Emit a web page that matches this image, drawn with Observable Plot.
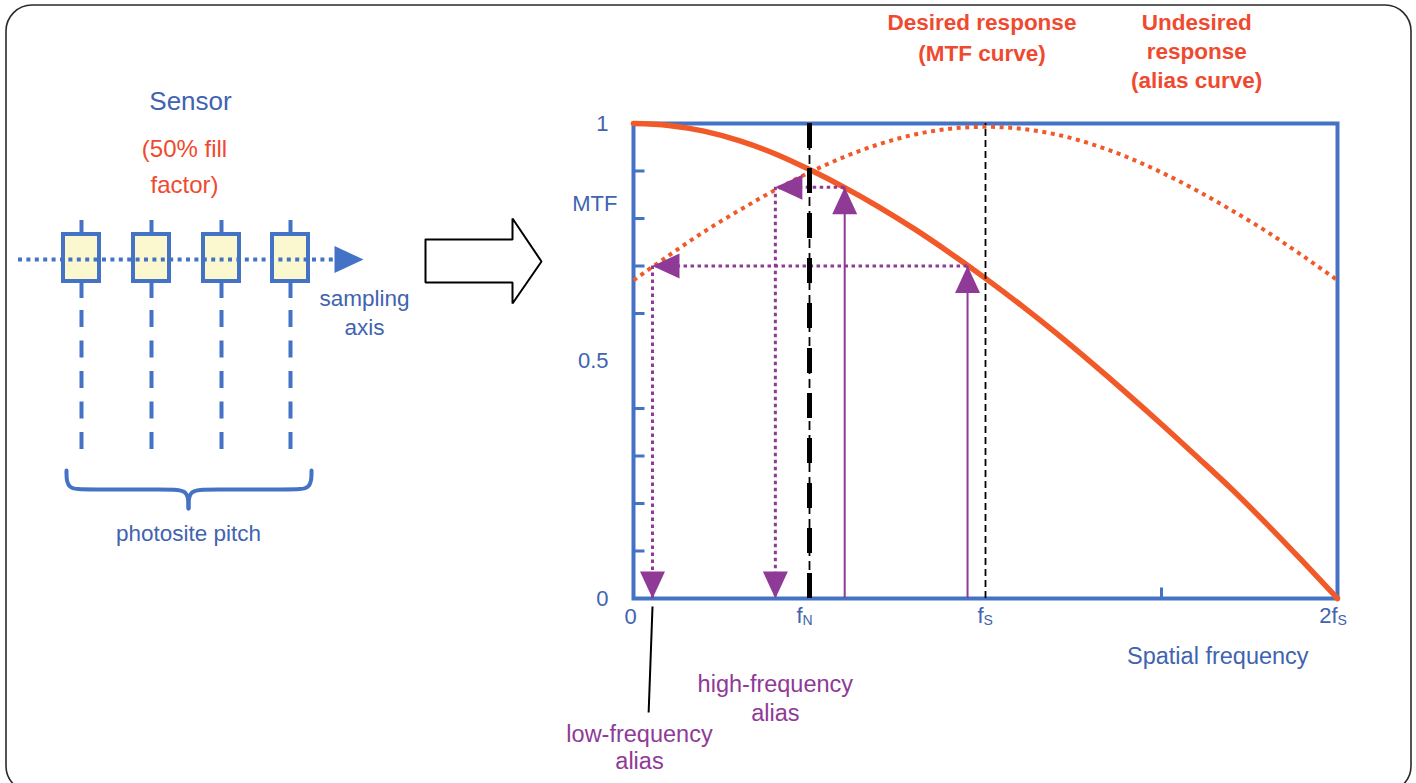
<!DOCTYPE html>
<html><head><meta charset="utf-8">
<script src="https://cdn.jsdelivr.net/npm/d3@7"></script>
<script src="https://cdn.jsdelivr.net/npm/@observablehq/plot@0.6"></script>
<style>
html,body{margin:0;padding:0;background:#fff;}
#wrap{position:relative;width:1416px;height:783px;overflow:hidden;background:#fff;}
#wrap svg{position:absolute;left:0;top:0;background:transparent !important;}
</style></head><body><div id="wrap"></div>
<script>
// ---------- DATA ----------
// spatial frequency in units of the sampling frequency fS
const freq  = [0,0.1,0.2,0.3,0.4,0.5,0.6,0.7,0.8,0.9,1.0,1.1,1.2,1.3,1.4,1.5,1.6,1.7,1.8,1.9,2.0];
// desired response (MTF curve)
const mtf   = [1.0,0.996,0.984,0.964,0.937,0.903,0.865,0.823,0.777,0.727,0.674,0.618,0.559,0.497,0.433,0.367,0.299,0.23,0.156,0.079,0.0];
// undesired response (alias curve)
const alias = [0.67,0.722,0.772,0.817,0.859,0.897,0.93,0.957,0.977,0.989,0.993,0.989,0.977,0.957,0.93,0.897,0.859,0.817,0.772,0.722,0.67];
const nyquist = 0.5;
const sampling = 1.0;
const yTicks = [0.1,0.2,0.3,0.4,0.6,0.7,0.8,0.9];
const xTicks = [1.5];
const yTickLabels = [{v:1,t:"1"},{v:0.5,t:"0.5"},{v:0,t:"0"}];
// aliasing examples: input frequency, response level, frequency where it aliases
const aliasCases = [
  {name:"high", f:0.6, level:0.866, aliasF:0.403},
  {name:"low",  f:0.949, level:0.70, aliasF:0.054}
];
// sensor diagram (photosite centres along the sampling axis)
const photosites = [81,151,221,290];

// ---------- STYLE ----------
const BLUE = "#4472C4", BLUE_TXT = "#4163B0", ORANGE = "#F15A28", RED_TXT = "#EF4A30", PURPLE = "#8E3A96";
const FONT = "Liberation Sans, Arial, Helvetica, sans-serif";

const mtfTable = freq.map((f,i)=>({f, v: mtf[i]}));
const aliasTable = freq.map((f,i)=>({f, v: alias[i]}));

// custom symbols
const arrowHead = {draw(ctx){ ctx.moveTo(0,0); ctx.lineTo(-12.5,27); ctx.lineTo(12.5,27); ctx.closePath(); }};
const bigHead = {draw(ctx){ ctx.moveTo(0,0); ctx.lineTo(-13.5,29); ctx.lineTo(13.5,29); ctx.closePath(); }};
const tickMark = {draw(ctx){ ctx.moveTo(0,0); ctx.lineTo(0,-11); }};

// ---------- CHART ----------
const chart = Plot.plot({
  width: 1416, height: 783,
  marginLeft: 633, marginRight: 79, marginTop: 123, marginBottom: 185,
  x: {domain:[0,2], axis:null},
  y: {domain:[0,1], axis:null},
  style: {fontFamily: FONT, background:"transparent", overflow:"visible"},
  marks: [
    Plot.frame({stroke: BLUE, strokeWidth: 4}),
    Plot.dot(yTicks, {x: 0, y: d=>d, symbol: tickMark, rotate: 90, r: 5, fill:"none", stroke: BLUE, strokeWidth: 3}),
    Plot.dot(xTicks, {x: d=>d, y: 0, symbol: tickMark, r: 5, fill:"none", stroke: BLUE, strokeWidth: 3}),
    // alias curve
    Plot.line(aliasTable, {x:"f", y:"v", curve:"monotone-x", stroke: ORANGE, strokeWidth: 4, strokeDasharray:"4,4.6", strokeLinecap:"butt"}),
    // MTF curve
    Plot.line(mtfTable, {x:"f", y:"v", curve:"monotone-x", stroke: ORANGE, strokeWidth: 5.5}),
    // aliasing arrows
    Plot.ruleX(aliasCases, {x:"f", y1:0, y2:"level", stroke: PURPLE, strokeWidth: 2}),
    Plot.dot(aliasCases, {x:"f", y:"level", symbol: arrowHead, r: 5, fill: PURPLE, stroke:"none"}),
    Plot.ruleY(aliasCases, {y:"level", x1:"f", x2:"aliasF", stroke: PURPLE, strokeWidth: 3, strokeDasharray:"3.5,3.5"}),
    Plot.ruleX(aliasCases, {x:"aliasF", y1:"level", y2:0, stroke: PURPLE, strokeWidth: 3, strokeDasharray:"3.5,3.5"}),
    Plot.dot(aliasCases, {x:"aliasF", y:"level", symbol: arrowHead, rotate: -90, r: 5, fill: PURPLE, stroke:"none"}),
    Plot.dot(aliasCases, {x:"aliasF", y:0, symbol: arrowHead, rotate: 180, r: 5, fill: PURPLE, stroke:"none"}),
    // fS and fN markers
    Plot.ruleX([sampling], {y1:0, y2:1, stroke:"black", strokeWidth: 1.8, strokeDasharray:"7,4"}),
    Plot.ruleX([nyquist], {y1:0, y2:1, stroke:"black", strokeWidth: 1.8, strokeDasharray:"9,5"}),
    Plot.ruleX([nyquist], {y1:0, y2:1, stroke:"black", strokeWidth: 5, strokeDasharray:"25,20"}),
    // y axis labels
    Plot.text(yTickLabels, {x:0, y:"v", text:"t", dx:-25, textAnchor:"end", fontSize: 22, fill: BLUE_TXT}),
    Plot.text(["MTF"], {x:0, y:0.83, dx:-16, textAnchor:"end", fontSize: 22, fill: BLUE_TXT}),
    // x axis labels
    Plot.text(["0"], {x:0, y:0, dx:-3, dy:18, fontSize: 22, fill: BLUE_TXT}),
    Plot.text(["f"], {x:nyquist, y:0, dx:-7, dy:17, textAnchor:"end", fontSize: 22, fill: BLUE_TXT}),
    Plot.text(["N"], {x:nyquist, y:0, dx:-7, dy:22, textAnchor:"start", fontSize: 14, fill: BLUE_TXT}),
    Plot.text(["f"], {x:sampling, y:0, dx:-2, dy:17, textAnchor:"end", fontSize: 22, fill: BLUE_TXT}),
    Plot.text(["S"], {x:sampling, y:0, dx:-2, dy:22, textAnchor:"start", fontSize: 14, fill: BLUE_TXT}),
    Plot.text(["2f"], {x:2, y:0, dx:0, dy:17, textAnchor:"end", fontSize: 22, fill: BLUE_TXT}),
    Plot.text(["S"], {x:2, y:0, dx:0, dy:22, textAnchor:"start", fontSize: 14, fill: BLUE_TXT}),
    Plot.text(["Spatial frequency"], {x:1.66, y:0, dy:58, fontSize: 23.5, fill: BLUE_TXT}),
    // curve titles
    Plot.text(["Desired response\n(MTF curve)"], {x:0.99, y:1, dy:-88, lineHeight:1.38, fontSize: 22.5, fontWeight:"bold", fill: RED_TXT}),
    Plot.text(["Undesired\nresponse\n(alias curve)"], {x:1.6, y:1, dy:-74, lineHeight:1.3, fontSize: 22.5, fontWeight:"bold", fill: RED_TXT}),
    // alias annotations
    Plot.text(["high-frequency\nalias"], {x:aliasCases[0].aliasF, y:0, dy:99, lineHeight:1.2, fontSize: 23.5, fill: PURPLE}),
    Plot.text(["low-frequency\nalias"], {x:0.017, y:0, dy:148, lineHeight:1.17, fontSize: 23.5, fill: PURPLE}),
    Plot.link([aliasCases[1]], {x1:"aliasF", y1:-0.017, x2:0.043, y2:-0.24, stroke:"black", strokeWidth: 2})
  ]
});

// ---------- SENSOR DIAGRAM (pixel layout) ----------
const bracePts = [
  {x:66,y:470,s:"l"},{x:66,y:489,s:"l"},{x:86,y:489,s:"l"},{x:168,y:489,s:"l"},{x:188,y:489,s:"l"},{x:188,y:508,s:"l"},
  {x:311,y:470,s:"r"},{x:311,y:489,s:"r"},{x:291,y:489,s:"r"},{x:208,y:489,s:"r"},{x:188,y:489,s:"r"},{x:188,y:508,s:"r"}
];
const bigArrow = [[425,239],[512,239],[512,218],[541,261],[512,303],[512,282],[425,282],[425,239]];

const diagram = Plot.plot({
  width: 1416, height: 783, margin: 0,
  x: {domain:[0,1416], range:[0,1416], axis:null},
  y: {domain:[0,783], range:[0,783], axis:null},
  style: {fontFamily: FONT, background:"transparent"},
  marks: [
    Plot.rect([{x1:6,x2:1411,y1:5,y2:792}], {x1:"x1",x2:"x2",y1:"y1",y2:"y2", rx:26, fill:"none", stroke:"#2a2a2a", strokeWidth:1.6}),
    // photosite stems
    Plot.ruleX(photosites, {x:d=>d, y1:220, y2:298, stroke: BLUE, strokeWidth: 4}),
    Plot.ruleX(photosites, {x:d=>d, y1:310, y2:449, stroke: BLUE, strokeWidth: 4, strokeDasharray:"17,13.5"}),
    Plot.rect(photosites, {x1:d=>d-18, x2:d=>d+18, y1:234, y2:281, fill:"#FBF7CE", stroke: BLUE, strokeWidth: 4}),
    // sampling axis
    Plot.ruleY([259], {x1:18, x2:334, stroke: BLUE, strokeWidth: 4, strokeDasharray:"4,4.4"}),
    Plot.dot([{x:363,y:259}], {x:"x", y:"y", symbol: bigHead, rotate: 90, r: 5, fill: BLUE, stroke:"none"}),
    // brace
    Plot.line(bracePts, {x:"x", y:"y", z:"s", curve:"basis", stroke: BLUE, strokeWidth: 4}),
    // big arrow
    Plot.line(bigArrow, {x:d=>d[0], y:d=>d[1], stroke:"black", strokeWidth: 2, strokeLinejoin:"miter"}),
    // texts
    Plot.text(["Sensor"], {x:190, y:101, fontSize: 26, fill: BLUE_TXT}),
    Plot.text(["(50% fill\nfactor)"], {x:184, y:163, lineHeight:1.5, fontSize: 24, fill: RED_TXT}),
    Plot.text(["sampling\naxis"], {x:364, y:311, lineHeight:1.3, fontSize: 22.5, fill: BLUE_TXT}),
    Plot.text(["photosite pitch"], {x:188, y:533, fontSize: 22.5, fill: BLUE_TXT})
  ]
});

const wrap = document.getElementById("wrap");
wrap.appendChild(diagram);
wrap.appendChild(chart);
</script>
</body></html>
